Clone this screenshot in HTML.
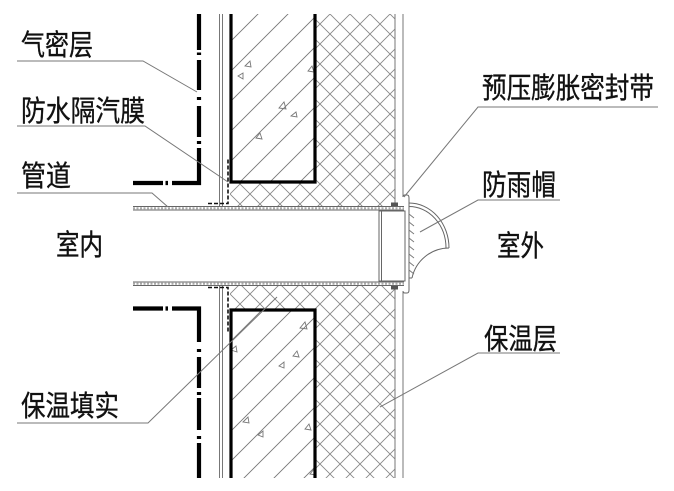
<!DOCTYPE html>
<html><head><meta charset="utf-8">
<style>
html,body{margin:0;padding:0;background:#fff;}
svg{display:block;}
text{font-family:"Liberation Sans","Noto Sans CJK SC",sans-serif;font-size:29px;fill:#111;stroke:#111;stroke-width:0.35px;}
</style></head><body>
<svg width="674" height="491" viewBox="0 0 674 491" xmlns="http://www.w3.org/2000/svg">
<defs>
<pattern id="conc" patternUnits="userSpaceOnUse" x="2" y="0" width="30" height="30">
<path d="M-2,2 L2,-2 M0,30 L30,0 M28,32 L32,28" stroke="#777" stroke-width="0.9" fill="none"/>
</pattern>
<pattern id="xh" patternUnits="userSpaceOnUse" x="10" y="14" width="20" height="20">
<path d="M0,0 L20,20 M20,0 L0,20" stroke="#888" stroke-width="0.9" fill="none"/>
</pattern>
</defs>

<!-- hatched regions -->
<rect x="231" y="14" width="84" height="168" fill="url(#conc)"/>
<rect x="231" y="310" width="84" height="168" fill="url(#conc)"/>
<rect x="315" y="14" width="80" height="193" fill="url(#xh)"/>
<rect x="230" y="182" width="85" height="25" fill="url(#xh)"/>
<rect x="315" y="285" width="80" height="193" fill="url(#xh)"/>
<rect x="230" y="285" width="85" height="25" fill="url(#xh)"/>

<!-- concrete triangles -->
<g fill="none" stroke="#777" stroke-width="0.9">
<path d="M245,66 l5,-5 l1,6 z"/>
<path d="M238,76 l5,-3 l0,6 z"/>
<path d="M279,108 l5,-6 l2,7 z"/>
<path d="M291,116 l5,-4 l1,5 z"/>
<path d="M256,138 l4,-5 l2,6 z"/>
<path d="M308,71 l4,-5 l2,6 z"/>
<path d="M300,328 l5,-6 l2,7 z"/>
<path d="M231,350 l5,-4 l1,6 z"/>
<path d="M293,356 l4,-5 l2,6 z"/>
<path d="M279,366 l5,-4 l0,6 z"/>
<path d="M243,422 l5,-5 l1,6 z"/>
<path d="M258,435 l5,-4 l0,6 z"/>
<path d="M305,429 l4,-5 l2,6 z"/>
<path d="M310,474 l4,-5 l2,6 z"/>
</g>

<!-- thin wall lines -->
<g stroke="#777" stroke-width="1" fill="none">
<line x1="219.5" y1="14" x2="219.5" y2="206"/>
<line x1="222.5" y1="14" x2="222.5" y2="206"/>
<line x1="219.5" y1="286" x2="219.5" y2="478"/>
<line x1="222.5" y1="286" x2="222.5" y2="478"/>
<line x1="395" y1="14" x2="395" y2="207"/>
<line x1="395" y1="285" x2="395" y2="478"/>
<line x1="403" y1="14" x2="403" y2="197"/>
<line x1="403" y1="292" x2="403" y2="478"/>
</g>

<!-- thick concrete outline -->
<path d="M231,14 V182 H315 V14" stroke="#000" stroke-width="3.2" fill="none"/>
<path d="M231,478 V310 H315 V478" stroke="#000" stroke-width="3.2" fill="none"/>

<!-- airtight layer dash-dot -->
<g stroke="#000" stroke-width="4.2" fill="none">
<path d="M199,14 V50 M199,52.5 V55 M199,60 V90 M199,97 V100 M199,106 V137 M199,141 V144 M199,148 V183 H172 M168,183 H165.5 M163,183 H133"/>
<path d="M199,478 V443 M199,439 V436 M199,430 V398 M199,395 V392 M199,388 V357 M199,352 V349 M199,342 V308.5 H172 M168,308.5 H165.5 M163,308.5 H133"/>
</g>

<!-- vapor barrier dashed -->
<g stroke="#111" stroke-width="1.6" fill="none" stroke-dasharray="4 2">
<path d="M208,203.5 H228 V158"/>
<path d="M208,287.5 H228 V332"/>
</g>

<!-- pipe walls -->
<g fill="none">
<line x1="133" y1="206.5" x2="404" y2="206.5" stroke="#666" stroke-width="1"/>
<line x1="133" y1="210" x2="404" y2="210" stroke="#666" stroke-width="1"/>
<line x1="133" y1="208.3" x2="404" y2="208.3" stroke="#aaa" stroke-width="2" stroke-dasharray="2 1.5"/>
<line x1="133" y1="282" x2="404" y2="282" stroke="#666" stroke-width="1"/>
<line x1="133" y1="285.5" x2="404" y2="285.5" stroke="#666" stroke-width="1"/>
<line x1="133" y1="283.8" x2="404" y2="283.8" stroke="#aaa" stroke-width="2" stroke-dasharray="2 1.5"/>
</g>

<!-- sealing strips -->
<rect x="391" y="202.5" width="7" height="3.5" fill="#555"/>
<rect x="391" y="286" width="7" height="3.5" fill="#555"/>

<!-- rain cap -->
<g stroke="#666" stroke-width="1" fill="none">
<rect x="379" y="211" width="26" height="70"/>
<line x1="381.5" y1="211" x2="381.5" y2="281"/>
<path d="M403,197 Q403,195 405,195 L407,195 Q409,195 409,198 L409,290 Q409,293 407,293 L405,293 Q403,293 403,291"/>
<path d="M409,203 A40,45 0 0 1 449,248"/>
<path d="M409,206.5 A37,41.5 0 0 1 446,248"/>
<path d="M449,248 A38,38 0 0 0 412,278"/>
<line x1="409" y1="278" x2="412" y2="278"/>
</g>
<g stroke="#777" stroke-width="0.9" fill="none">
<path d="M409,214 l5,4"/>
<path d="M409,222 l5,4"/>
<path d="M409,230 l5,4"/>
<path d="M409,238 l5,4"/>
<path d="M409,246 l5,4"/>
<path d="M409,254 l5,4"/>
<path d="M409,262 l5,4"/>
<path d="M409,270 l5,4"/>
</g>

<!-- leaders and underlines -->
<g stroke="#777" stroke-width="1" fill="none">
<path d="M17,61 H143 L197,92"/>
<path d="M17,126 H145 L228,182"/>
<path d="M17,193 H152 L168,207"/>
<path d="M17,423 H148 L277,297"/>
<path d="M658,107 H478 L404,197"/>
<path d="M560,200 H478 L420,232"/>
<path d="M560,353 H478 L380,407"/>
</g>

<!-- labels -->
<text x="21" y="55" textLength="72" lengthAdjust="spacingAndGlyphs">气密层</text>
<text x="21" y="121" textLength="124" lengthAdjust="spacingAndGlyphs">防水隔汽膜</text>
<text x="21" y="186" textLength="50" lengthAdjust="spacingAndGlyphs">管道</text>
<text x="56" y="255" textLength="47" lengthAdjust="spacingAndGlyphs">室内</text>
<text x="21" y="416" textLength="98" lengthAdjust="spacingAndGlyphs">保温填实</text>
<text x="482" y="98" textLength="172" lengthAdjust="spacingAndGlyphs">预压膨胀密封带</text>
<text x="482" y="195" textLength="74" lengthAdjust="spacingAndGlyphs">防雨帽</text>
<text x="497" y="256" textLength="47" lengthAdjust="spacingAndGlyphs">室外</text>
<text x="484" y="349" textLength="73" lengthAdjust="spacingAndGlyphs">保温层</text>
</svg>
</body></html>
